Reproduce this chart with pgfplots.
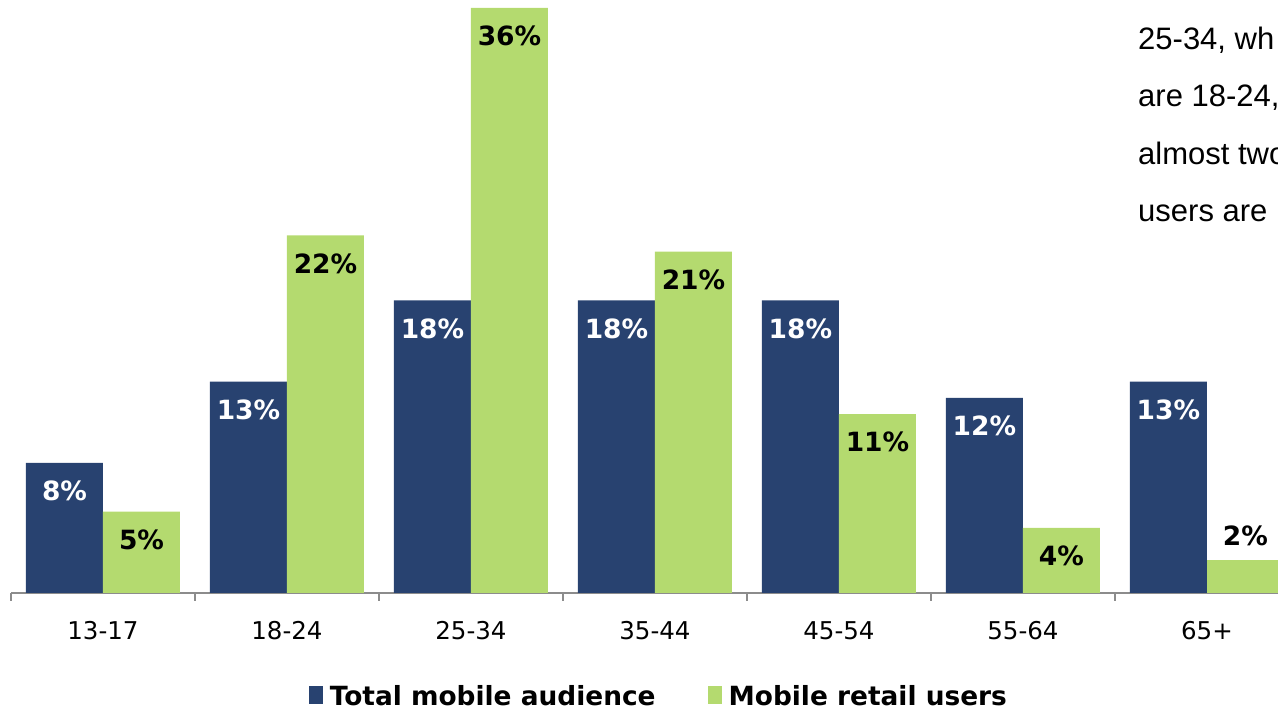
\documentclass[border=0pt]{standalone}
\usepackage{fontspec}
\setmainfont{DejaVu Sans}
\newfontfamily\arialfont{Liberation Sans}
\usepackage{pgfplots}
\pgfplotsset{compat=1.18}
\definecolor{navy}{HTML}{284270}
\definecolor{lime}{HTML}{B4DA6F}
\definecolor{axgray}{HTML}{8C8C8C}

\begin{document}
\begin{tikzpicture}
\useasboundingbox (0,0) rectangle (1278pt,711pt);
\clip (0,0) rectangle (1278pt,711pt);
\begin{axis}[
	at={(11pt,118pt)}, anchor=south west,
	scale only axis, width=1288pt, height=593.125pt,
	xmin=-0.5, xmax=6.5, ymin=0, ymax=36.5,
	ybar, bar width=77pt,
	axis x line*=bottom, axis y line=none,
	x axis line style={axgray, line width=2pt},
	xtick={0,...,6},
	xticklabels={13-17,18-24,25-34,35-44,45-54,55-64,65+},
	major tick length=0pt,
	minor xtick={-0.5,0.5,...,6.5},
	minor tick length=8pt, tick align=outside,
	minor tick style={axgray, line width=2pt},
	xticklabel style={anchor=base, yshift=-47pt, font=\fontsize{24.5}{28}\selectfont},
	/pgf/number format/assume math mode=true,
	nodes near coords={\pgfmathprintnumber{\pgfplotspointmeta}\%},
	nodes near coords style={font=\bfseries\fontsize{26.5}{30}\selectfont, anchor=center},
	legend columns=2,
	legend style={at={(0.503,-0.174)}, anchor=center, draw=none, fill=none,
		font=\bfseries\fontsize{26.4}{30}\selectfont,
		/tikz/every even column/.append style={column sep=50pt}},
	legend image code/.code={\fill[#1] (0pt,-8pt) rectangle (14pt,10pt); \path (19pt,0pt);},
]
% total mobile audience
\addplot[fill=navy, draw=none, bar shift=-38.5pt,
	every node near coord/.append style={white, yshift=-28pt}]
	coordinates {(0,8) (1,13) (2,18) (3,18) (4,18) (5,12) (6,13)};
\addlegendentry{Total mobile audience}
% mobile retail users
\addplot[fill=lime, draw=none, bar shift=38.5pt,
	every node near coord/.append style={black, yshift=-28pt}]
	coordinates {(0,5) (1,22) (2,36) (3,21) (4,11) (5,4)};
\addlegendentry{Mobile retail users}
% small bar, label sits above
\addplot[fill=lime, draw=none, bar shift=38.5pt, forget plot,
	every node near coord/.append style={black, yshift=25pt}]
	coordinates {(6,2)};
\end{axis}
\begin{scope}[every node/.style={anchor=base west, inner sep=0pt, font=\arialfont\fontsize{31}{36}\selectfont}]
\node at (1138pt,661pt) {25-34, wh};
\node at (1138pt,604pt) {are 18-24,};
\node at (1138pt,546pt) {almost two};
\node at (1138pt,489pt) {users are};
\end{scope}
\end{tikzpicture}
\end{document}
